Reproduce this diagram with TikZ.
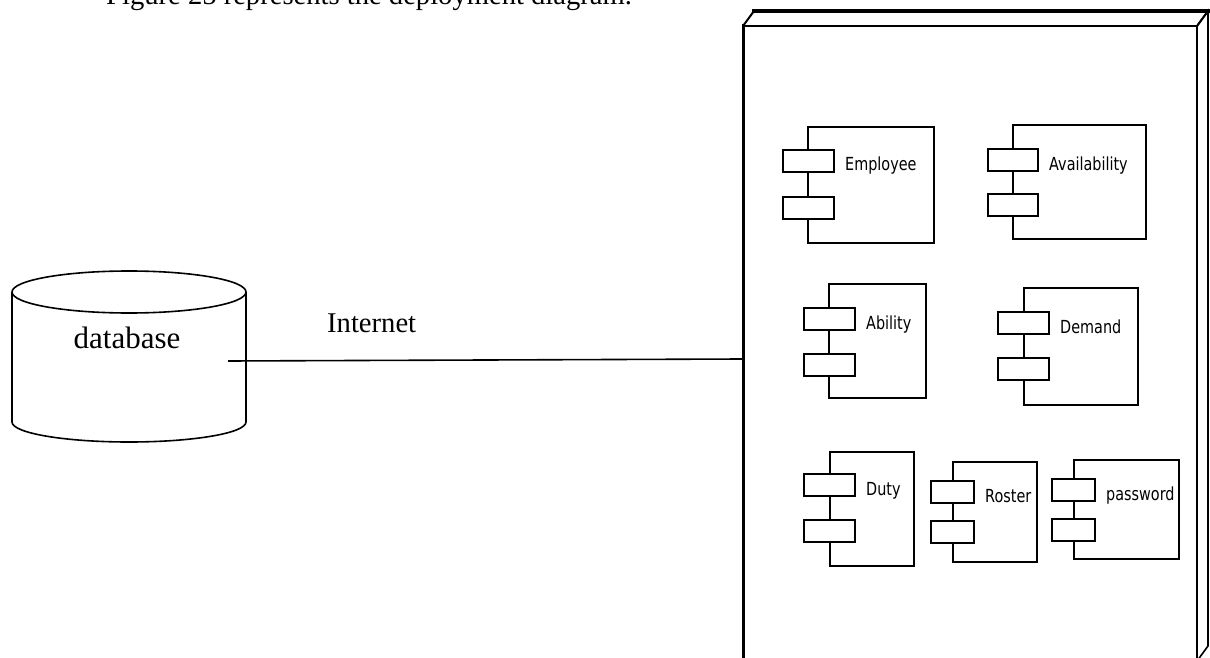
\documentclass[tikz,border=0pt]{standalone}
\usepackage{fontspec}
\setmainfont{Liberation Serif}
\newfontfamily\compfont[FakeStretch=0.8]{DejaVu Sans}
\newcommand\umlcomp[9]{%
  \draw[compline] (#1,#2) rectangle (#3,#4);
  \draw[compline,fill=white] (#5,#7) rectangle (#6,#7+22);
  \draw[compline,fill=white] (#5,#8) rectangle (#6,#8+22);
  \node[complabel] (c-#9) at (#6+11,#7+21) {#9};
}
\tikzset{
  compline/.style={line width=2.2pt, line join=miter},
  complabel/.style={anchor=base west, inner sep=0pt, font=\compfont\fontsize{18}{21}\selectfont},
  serifbig/.style={inner sep=0pt, font=\fontsize{28.6}{32}\selectfont},
}
\begin{document}
\begin{tikzpicture}[x=1pt,y=-1pt]
\useasboundingbox (0,0) rectangle (1210,658);
\clip (0,0) rectangle (1210,658);
\fill[white] (0,0) rectangle (1210,658);
% caption (cut off at the top, as in the reference)
\node[serifbig, anchor=base west] (caption) at (106,5) {Figure 25 represents the deployment diagram.};
% database cylinder
\draw[line width=1.6pt] (129,292) ellipse [x radius=117pt, y radius=21pt];
\draw[line width=1.6pt] (12,292) -- (12,422) arc[start angle=180, end angle=360, x radius=117pt, y radius=20pt] -- (246,292);
\node[inner sep=0pt, anchor=base, font=\fontsize{31}{34}\selectfont] (db) at (127,348) {database};
\coordinate (dbport) at (228,361);
% device node (3D box)
\coordinate (devleft) at (742,359);
\draw[line width=2pt, line join=miter] (743,26) -- (754,11) -- (1208,11) -- (1197,26);
\draw[line width=3.5pt] (752,11) -- (1210,11);
\draw[line width=1.6pt] (1197,26) -- (1208,11) -- (1208,646) -- (1197,661);
\draw[line width=2pt] (743,26) -- (1197,26) -- (1197,662);
\draw[line width=3pt] (743,24.5) -- (743,662);
% connector
\draw[line width=1.6pt] (dbport) -- (devleft);
\node[serifbig, anchor=base west] (inet) at (327,332) {Internet};
% components
\umlcomp{808}{127}{934}{243}{783}{834}{150}{197}{Employee}
\umlcomp{1013}{125}{1146}{239}{988}{1038}{149}{194}{Availability}
\umlcomp{829}{284}{926}{398}{804}{855}{308}{354}{Ability}
\umlcomp{1024}{288}{1138}{405}{998}{1049}{312}{358}{Demand}
\umlcomp{830}{452}{914}{566}{804}{855}{474}{520}{Duty}
\umlcomp{953}{462}{1037}{562}{931}{974}{481}{521}{Roster}
\umlcomp{1074}{460}{1179}{559}{1052}{1095}{479}{519}{password}
\end{tikzpicture}
\end{document}
